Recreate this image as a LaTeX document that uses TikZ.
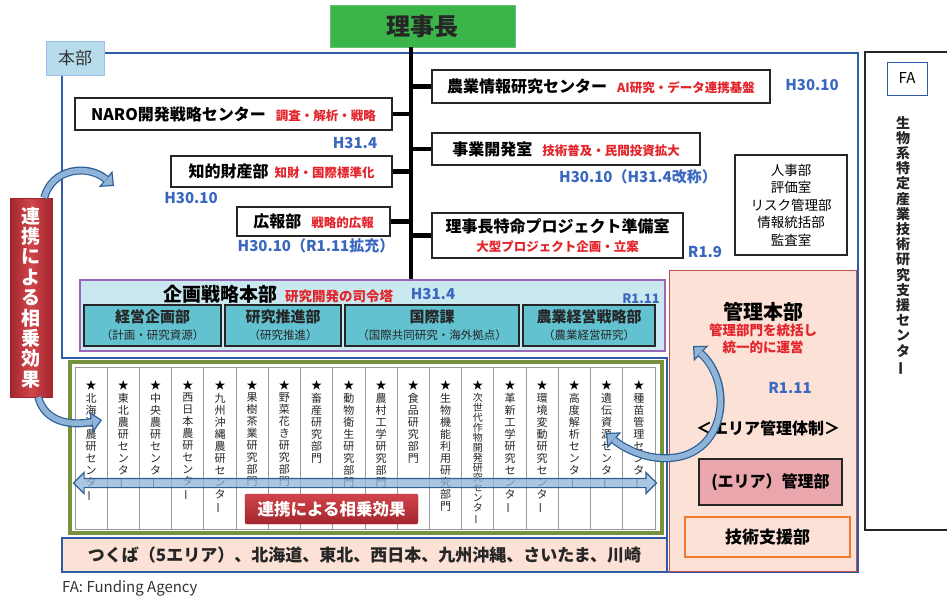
\documentclass[tikz,border=0pt]{standalone}
\usepackage{fontspec}
\setmainfont{Noto Sans CJK JP}
\usepackage{graphicx}
\usetikzlibrary{arrows.meta,shapes.arrows}

\definecolor{hqblue}{HTML}{2F5BA8}
\definecolor{yearblue}{HTML}{3A68C0}
\definecolor{notered}{HTML}{E3242B}
\definecolor{chairgreen}{HTML}{3BB54A}
\definecolor{hqlabel}{HTML}{B7DCEB}
\definecolor{planfill}{HTML}{C9E8EF}
\definecolor{planedge}{HTML}{9966B8}
\definecolor{unitteal}{HTML}{62C2D0}
\definecolor{colgreen}{HTML}{76923C}
\definecolor{mgmtfill}{HTML}{FCE1D6}
\definecolor{mgmtedge}{HTML}{C0504D}
\definecolor{areafill}{HTML}{E9A7AD}
\definecolor{supportedge}{HTML}{F2792A}
\definecolor{arrowfill}{HTML}{8FB4D8}
\definecolor{arrowedge}{HTML}{2E6096}
\definecolor{bannerred}{HTML}{D0454B}
\definecolor{bannerdark}{HTML}{A3262D}

\newcommand\fsz[1]{\fontsize{#1}{#1}\selectfont}
\newcommand\ttl[1]{{\fsz{16}\bfseries #1}}
\newcommand\rnote[1]{{\fsz{12.5}\bfseries\color{notered}#1}}

% vertical (tate) text: one character per line
\newcommand\tate[1]{\vbox{\lineskiplimit=-100pt\tateA#1\relax}}
\def\tateA#1{\ifx\relax#1\else\tateB{#1}\expandafter\tateA\fi}
\def\tateB#1{\hbox to 1em{\hss\ifx ー#1\rotatebox[origin=c]{90}{ー}\else#1\fi\hss}}

\tikzset{
  hqline/.style={draw=hqblue, line width=2.5pt},
  hqtag/.style={fill=hqlabel, draw=hqlabel!85!blue, line width=0.8pt, minimum width=58, minimum height=34, inner sep=0pt, font=\fsz{17}, text=black!80},
  chairbox/.style={fill=chairgreen, draw=chairgreen!80!white, line width=0.8pt, minimum width=185, minimum height=42, inner sep=0pt, font=\fsz{24}\bfseries, text=black!85},
  trunkline/.style={line width=4.5pt, black},
  orgbox/.style={draw=black!85, line width=1.2pt, fill=white, inner sep=0pt},
  yearlbl/.style={text=yearblue, font=\fsz{15}\bfseries, inner sep=0pt},
  planbox/.style={draw=planedge, line width=1.5pt, fill=planfill, inner sep=0pt},
  unitbox/.style={draw=black!85, line width=1.5pt, fill=unitteal, minimum height=41, inner sep=0pt, align=center, font=\fontsize{15}{17}\selectfont, text=black!85},
  mgmtbox/.style={draw=mgmtedge, line width=1pt, fill=mgmtfill, inner sep=0pt},
  areabox/.style={draw=black!85, line width=2.2pt, fill=areafill, minimum width=143, minimum height=46, inner sep=0pt, font=\fsz{16}\bfseries},
  supportbox/.style={draw=supportedge, line width=2.2pt, fill=mgmtfill, minimum width=165, minimum height=40, inner sep=0pt, font=\fsz{17}\bfseries},
  colframe/.style={draw=colgreen, line width=3.5pt, fill=white, inner sep=0pt},
  colbox/.style={draw=black!40, line width=0.8pt, fill=white, minimum width=32.22, minimum height=162, inner sep=0pt},
  colstar/.style={inner sep=0pt, font=\fsz{11}},
  coltext/.style={anchor=north, inner sep=0pt, font=\fontsize{11}{12}\selectfont, text=black!85},
  synarrow/.style={double arrow, draw=arrowedge, line width=1.2pt, fill=arrowfill, fill opacity=0.75, minimum width=20, inner xsep=0pt, inner ysep=4pt, double arrow head extend=6pt},
  hbanner/.style={top color=bannerred, bottom color=bannerdark, draw=bannerdark, rounded corners=2pt, minimum width=173, minimum height=30, inner sep=0pt, font=\fsz{16.5}\bfseries, text=white},
  vbanner/.style={left color=bannerdark, right color=bannerdark, middle color=bannerred, draw=bannerdark, minimum width=42, minimum height=199, inner sep=0pt, font=\fontsize{19}{20.4}\selectfont\bfseries, text=white},
  fatedge/.style={line width=8pt, draw=arrowedge, arrows={-Triangle[length=11pt,width=21pt,fill=arrowfill,line width=1.2pt]}},
  fatcore/.style={line width=5.5pt, draw=arrowfill, shorten >=10pt},
  fatedgetwo/.style={line width=8pt, draw=arrowedge, arrows={Triangle[length=11pt,width=21pt,fill=arrowfill,line width=1.2pt]-Triangle[length=11pt,width=21pt,fill=arrowfill,line width=1.2pt]}},
  fatcoretwo/.style={line width=5.5pt, draw=arrowfill, shorten >=10pt, shorten <=10pt},
  fabox/.style={draw=black!85, line width=2pt, fill=white, minimum width=90, minimum height=478, inner sep=0pt},
  fatag/.style={draw=hqblue, line width=1pt, minimum width=40, minimum height=33, inner sep=0pt, font=\fsz{15}},
  areabar/.style={draw=hqblue, line width=2.5pt, fill=mgmtfill, minimum width=605, minimum height=34, inner sep=0pt, font=\fsz{17}\bfseries, text=black!85}
}

\begin{document}
\begin{tikzpicture}[x=1pt,y=-1pt]
\useasboundingbox (0,0) rectangle (947,597);

% Drawing outline of headquarters
\draw[hqline] (62,53) -- (858,53) -- (858,572) -- (667,572) -- (667,358) -- (62,358) -- cycle;

% Marking label of headquarters
\node[hqtag] (hq) at (75,58) {本部};

% Marking chairman
\node[chairbox] (chair) at (422.5,26) {理事長};

% Marking offices under chairman
\node[orgbox, minimum width=338, minimum height=33] (agri) at (601,86.5) {\ttl{農業情報研究センター}\hspace{10pt}\rnote{AI研究・データ連携基盤}};
\node[orgbox, minimum width=317, minimum height=32] (naro) at (233.5,114) {\ttl{NARO開発戦略センター}\hspace{10pt}\rnote{調査・解析・戦略}};
\node[orgbox, minimum width=268, minimum height=32] (biz) at (566,149) {\ttl{事業開発室}\hspace{10pt}\rnote{技術普及・民間投資拡大}};
\node[orgbox, minimum width=221, minimum height=31] (ip) at (281.5,171.5) {\ttl{知的財産部}\hspace{6pt}\rnote{知財・国際標準化}};
\node[orgbox, minimum width=153, minimum height=29] (pr) at (313.5,221.5) {\ttl{広報部}\hspace{10pt}\rnote{戦略的広報}};
\node[orgbox, minimum width=251, minimum height=45, align=center, font=\fontsize{16}{19}\selectfont] (proj) at (557.5,235.5) {\ttl{理事長特命プロジェクト準備室}\\\rnote{大型プロジェクト企画・立案}};
\node[orgbox, minimum width=112, minimum height=100, align=center, font=\fontsize{13.5}{17.5}\selectfont] (admin) at (791,205) {人事部\\評価室\\リスク管理部\\情報統括部\\監査室};

% Marking dates
\node[yearlbl] (yagri) at (812,85) {H30.10};
\node[yearlbl] (ynaro) at (355,143) {H31.4};
\node[yearlbl] (ybiz) at (638,177) {H30.10（H31.4改称）};
\node[yearlbl] (yip) at (191,198) {H30.10};
\node[yearlbl] (ypr) at (316,246) {H30.10（R1.11拡充）};
\node[yearlbl] (yproj) at (705,252) {R1.9};

% Marking planning headquarters
\node[planbox, minimum width=585, minimum height=71] (plan) at (372.5,315.5) {};
\node[inner sep=0pt] (plantitle) at (278,294) {{\fsz{19}\bfseries 企画戦略本部}\hspace{8pt}{\fsz{13.5}\bfseries\color{notered}研究開発の司令塔}};
\node[yearlbl] (yplan) at (433,294) {H31.4};
\node[yearlbl, font=\fsz{13}\bfseries] (ynogyo) at (641,299) {R1.11};
\node[unitbox, minimum width=137] (keiei) at (152.5,325.5) {{\bfseries 経営企画部}\\{\fsz{11.5}（計画・研究資源）}};
\node[unitbox, minimum width=116] (suishin) at (283,325.5) {{\bfseries 研究推進部}\\{\fsz{11.5}（研究推進）}};
\node[unitbox, minimum width=174] (kokusai) at (432,325.5) {{\bfseries 国際課}\\{\fsz{11.5}（国際共同研究・海外拠点）}};
\node[unitbox, minimum width=132] (nogyo) at (589,325.5) {{\bfseries 農業経営戦略部}\\{\fsz{11.5}（農業経営研究）}};

% Drawing trunk and branches
\coordinate (trunk) at (411,0);
\draw[trunkline] (chair.south -| trunk) -- (plan.north -| trunk);
\draw[trunkline] (agri.west) -- (agri.west -| trunk);
\draw[trunkline] (naro.east) -- (naro.east -| trunk);
\draw[trunkline] (biz.west) -- (biz.west -| trunk);
\draw[trunkline] (ip.east) -- (ip.east -| trunk);
\draw[trunkline] (pr.east) -- (pr.east -| trunk);
\draw[trunkline] (proj.west) -- (proj.west -| trunk);

% Marking management headquarters
\node[mgmtbox, minimum width=187, minimum height=301] (mgmt) at (762.5,420.5) {};
\node[inner sep=0pt] (mgmttitle) at (763,312) {\fsz{20}\bfseries 管理本部};
\node[inner sep=0pt, align=center, font=\fontsize{13.5}{17}\selectfont\bfseries, text=notered] (mgmtnote) at (763,339) {管理部門を統括し\\統一的に運営};
\node[yearlbl] (ymgmt) at (790,388) {R1.11};
\node[inner sep=0pt] (areahead) at (768,428) {\fsz{16}\bfseries ＜エリア管理体制＞};
\node[areabox] (area) at (770.5,482) {(エリア）管理部};
\node[supportbox] (support) at (767.5,537) {技術支援部};

% Drawing research centres
\node[colframe, minimum width=592, minimum height=171] (cols) at (366,447.5) {};
% column 1
\node[colbox] (col1) at (91.1,448) {};
\node[colstar] (star1) at (91.1,385) {★};
\node[coltext] (txt1) at (91.1,393) {\tate{北海道農研センター}};
% column 2
\node[colbox] (col2) at (123.3,448) {};
\node[colstar] (star2) at (123.3,385) {★};
\node[coltext] (txt2) at (123.3,393) {\tate{東北農研センター}};
% column 3
\node[colbox] (col3) at (155.6,448) {};
\node[colstar] (star3) at (155.6,385) {★};
\node[coltext] (txt3) at (155.6,393) {\tate{中央農研センター}};
% column 4
\node[colbox] (col4) at (187.8,448) {};
\node[colstar] (star4) at (187.8,385) {★};
\node[coltext] (txt4) at (187.8,393) {\tate{西日本農研センター}};
% column 5
\node[colbox] (col5) at (220.0,448) {};
\node[colstar] (star5) at (220.0,385) {★};
\node[coltext] (txt5) at (220.0,393) {\tate{九州沖縄農研センター}};
% column 6
\node[colbox] (col6) at (252.2,448) {};
\node[colstar] (star6) at (252.2,385) {★};
\node[coltext] (txt6) at (252.2,393) {\tate{果樹茶業研究部門}};
% column 7
\node[colbox] (col7) at (284.4,448) {};
\node[colstar] (star7) at (284.4,385) {★};
\node[coltext] (txt7) at (284.4,393) {\tate{野菜花き研究部門}};
% column 8
\node[colbox] (col8) at (316.7,448) {};
\node[colstar] (star8) at (316.7,385) {★};
\node[coltext] (txt8) at (316.7,393) {\tate{畜産研究部門}};
% column 9
\node[colbox] (col9) at (348.9,448) {};
\node[colstar] (star9) at (348.9,385) {★};
\node[coltext] (txt9) at (348.9,393) {\tate{動物衛生研究部門}};
% column 10
\node[colbox] (col10) at (381.1,448) {};
\node[colstar] (star10) at (381.1,385) {★};
\node[coltext] (txt10) at (381.1,393) {\tate{農村工学研究部門}};
% column 11
\node[colbox] (col11) at (413.3,448) {};
\node[colstar] (star11) at (413.3,385) {★};
\node[coltext] (txt11) at (413.3,393) {\tate{食品研究部門}};
% column 12
\node[colbox] (col12) at (445.6,448) {};
\node[colstar] (star12) at (445.6,385) {★};
\node[coltext] (txt12) at (445.6,393) {\tate{生物機能利用研究部門}};
% column 13
\node[colbox] (col13) at (477.8,448) {};
\node[colstar] (star13) at (477.8,385) {★};
\node[coltext, font=\fontsize{10}{10}\selectfont] (txt13) at (477.8,393) {\tate{次世代作物開発研究センター}};
% column 14
\node[colbox] (col14) at (510.0,448) {};
\node[colstar] (star14) at (510.0,385) {★};
\node[coltext] (txt14) at (510.0,393) {\tate{革新工学研究センター}};
% column 15
\node[colbox] (col15) at (542.2,448) {};
\node[colstar] (star15) at (542.2,385) {★};
\node[coltext] (txt15) at (542.2,393) {\tate{環境変動研究センター}};
% column 16
\node[colbox] (col16) at (574.4,448) {};
\node[colstar] (star16) at (574.4,385) {★};
\node[coltext] (txt16) at (574.4,393) {\tate{高度解析センター}};
% column 17
\node[colbox] (col17) at (606.7,448) {};
\node[colstar] (star17) at (606.7,385) {★};
\node[coltext] (txt17) at (606.7,393) {\tate{遺伝資源センター}};
% column 18
\node[colbox] (col18) at (638.9,448) {};
\node[colstar] (star18) at (638.9,385) {★};
\node[coltext] (txt18) at (638.9,393) {\tate{種苗管理センター}};

% Drawing synergy arrow and label
\node[synarrow, minimum height=583] (syn) at (365,483) {};
\node[hbanner] (synlabel) at (331.5,509) {連携による相乗効果};

% Marking left synergy banner
\node[vbanner] (lbanner) at (31,297.5) {\tate{連携による相乗効果}};

% Drawing curved arrows
\coordinate (synA) at (114,186);
\coordinate (synB) at (102,420);
\draw[fatedge] ([xshift=-8pt]lbanner.north east) .. controls (52,168) and (88,164) .. (synA);
\draw[fatcore] ([xshift=-8pt]lbanner.north east) .. controls (52,168) and (88,164) .. (synA);
\draw[fatedge] ([xshift=-14pt]lbanner.south east) .. controls (45,422) and (70,426) .. (synB);
\draw[fatcore] ([xshift=-14pt]lbanner.south east) .. controls (45,422) and (70,426) .. (synB);
\coordinate (mgmtA) at (693,346);
\coordinate (mgmtB) at (606,433);
\draw[fatedgetwo] (mgmtA) .. controls (735,385) and (725,455) .. (670,458) .. controls (645,460) and (622,447) .. (mgmtB);
\draw[fatcoretwo] (mgmtA) .. controls (735,385) and (725,455) .. (670,458) .. controls (645,460) and (622,447) .. (mgmtB);

% Marking funding agency
\node[fabox] (fa) at (910,291) {};
\node[fatag] (fatag) at (907,78.5) {FA};
\node[anchor=north, inner sep=0pt, font=\fontsize{14}{15.2}\selectfont\bfseries, text=black!85] (fatext) at (903,116) {\tate{生物系特定産業技術研究支援センター}};

% Marking areas
\node[areabar] (areas) at (364.5,555) {つくば（5エリア）、北海道、東北、西日本、九州沖縄、さいたま、川崎};
\node[anchor=west, inner sep=0pt, font=\fsz{15}, text=black!80] (fanote) at (62,588) {FA: Funding Agency};
\end{tikzpicture}
\end{document}
